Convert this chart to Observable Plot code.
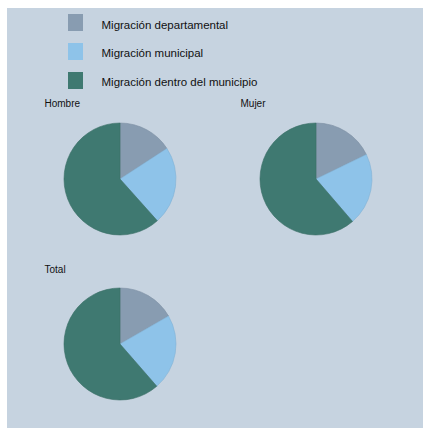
<!DOCTYPE html>
<html>
<head>
<meta charset="utf-8">
<script src="https://cdn.jsdelivr.net/npm/d3@7"></script>
<script src="https://cdn.jsdelivr.net/npm/@observablehq/plot@0.6"></script>
<style>
  html, body { margin: 0; padding: 0; background: #ffffff; }
  #wrap { position: relative; width: 423px; height: 428px; overflow: hidden; }
  #panel { position: absolute; left: 7px; top: 8px; width: 416px; height: 420px; background: #c6d3e0; }
  #chart { position: absolute; left: 0; top: 0; }
</style>
</head>
<body>
<div id="wrap"><div id="panel"></div><div id="chart"></div></div>
<script>
// Data
const categories = ["Migración departamental", "Migración municipal", "Migración dentro del municipio"];
const colors = ["#889cb1", "#8ec3e9", "#3f7971"];
const groups = ["Hombre", "Mujer", "Total"];
const departamental = [15.8, 17.8, 16.7];
const municipal = [22.6, 20.9, 21.9];
const dentro = [61.6, 61.3, 61.4];

// Layout (pixel positions)
const pieCenters = [[120, 179], [316, 179], [120, 344]];
const pieLabelPos = [[44, 103], [240, 103], [44, 269]];
const radius = 56;

const pies = groups.map((g, i) => ({
  group: g,
  cx: pieCenters[i][0], cy: pieCenters[i][1],
  lx: pieLabelPos[i][0], ly: pieLabelPos[i][1],
  values: [departamental[i], municipal[i], dentro[i]]
}));

const legend = categories.map((c, i) => ({label: c, color: colors[i], i}));

function pieMark(data) {
  return (index, scales, values, dimensions, context) => {
    const svg = d3.create("svg:g");
    const pie = d3.pie().sort(null).value(d => d.v);
    const arc = d3.arc().innerRadius(0).outerRadius(radius);
    for (const p of data) {
      const g = svg.append("g")
        .attr("transform", `translate(${scales.x(p.cx)},${scales.y(p.cy)})`);
      const arcs = pie(p.values.map((v, k) => ({v, k})));
      g.selectAll("path").data(arcs).join("path")
        .attr("d", arc)
        .attr("fill", d => scales.color(categories[d.data.k]))
        .attr("stroke", d => d3.color(scales.color(categories[d.data.k])).darker(0.25))
        .attr("stroke-width", 0.6);
    }
    return svg.node();
  };
}

const chart = Plot.plot({
  width: 423,
  height: 428,
  margin: 0,
  style: {background: "transparent", fontFamily: "'Liberation Sans', Arial, sans-serif"},
  x: {domain: [0, 423], range: [0, 423], axis: null},
  y: {domain: [0, 428], range: [0, 428], axis: null},
  color: {domain: categories, range: colors},
  marks: [
    Plot.rect(legend, {
      x1: 68, x2: 83,
      y1: d => 14 + d.i * 29, y2: d => 31 + d.i * 29,
      fill: "label"
    }),
    Plot.text(legend, {
      x: 101, y: d => 24.5 + d.i * 28.7,
      text: "label", textAnchor: "start", fontSize: 11.5, fill: "#111"
    }),
    Plot.text(pies, {
      x: "lx", y: "ly", text: "group", textAnchor: "start", fontSize: 10, fill: "#111"
    }),
    pieMark(pies)
  ]
});
document.getElementById("chart").appendChild(chart);
</script>
</body>
</html>
